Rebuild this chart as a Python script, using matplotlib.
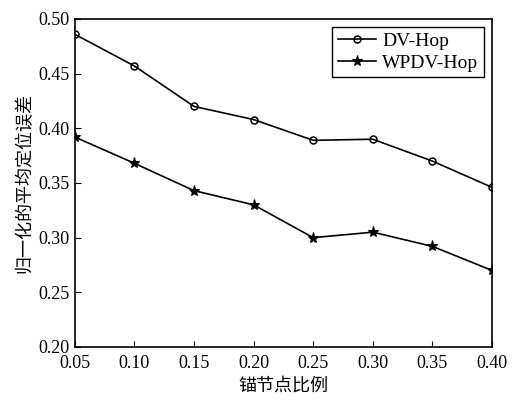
import matplotlib.pyplot as plt

# anchor node ratio vs normalized mean localization error
ratio = [0.05, 0.10, 0.15, 0.20, 0.25, 0.30, 0.35, 0.40]
dv_hop = [0.486, 0.457, 0.420, 0.408, 0.389, 0.390, 0.370, 0.346]
wpdv_hop = [0.392, 0.368, 0.343, 0.330, 0.300, 0.305, 0.292, 0.270]
xticks = [0.05, 0.10, 0.15, 0.20, 0.25, 0.30, 0.35, 0.40]
yticks = [0.20, 0.25, 0.30, 0.35, 0.40, 0.45, 0.50]

plt.rcParams['font.family'] = ['Liberation Serif', 'Noto Sans CJK SC']

fig = plt.figure(figsize=(5.12, 4.03), dpi=100)
ax = fig.add_axes([0.146, 0.139, 0.815, 0.814])

ax.plot(ratio, dv_hop, color='black', lw=1.2, marker='o', ms=5,
        mfc='none', mew=1.1, label='DV-Hop')
ax.plot(ratio, wpdv_hop, color='black', lw=1.2, marker='*', ms=8,
        mew=0.8, label='WPDV-Hop')

ax.set_xlim(0.05, 0.40)
ax.set_ylim(0.20, 0.50)
ax.set_xticks(xticks)
ax.set_xticklabels(['%.2f' % v for v in xticks])
ax.set_yticks(yticks)
ax.set_yticklabels(['%.2f' % v for v in yticks])
ax.tick_params(direction='in', labelsize=13, length=4)
ax.tick_params(axis='x', pad=6)
ax.tick_params(axis='y', pad=4)
for s in ax.spines.values():
    s.set_linewidth(1.2)

ax.set_xlabel('锚节点比例', family=['Noto Sans CJK SC'], fontsize=13, labelpad=3)
ax.set_ylabel('归一化的平均定位误差', family=['Noto Sans CJK SC'], fontsize=13, labelpad=3)

leg = ax.legend(loc='upper right', fontsize=14, fancybox=False, framealpha=1,
                edgecolor='black', handlelength=2.0, borderpad=0.3,
                labelspacing=0.2, handletextpad=0.3, borderaxespad=0.4)
leg.get_frame().set_linewidth(1.0)

fig.savefig('out.png', dpi=100)
